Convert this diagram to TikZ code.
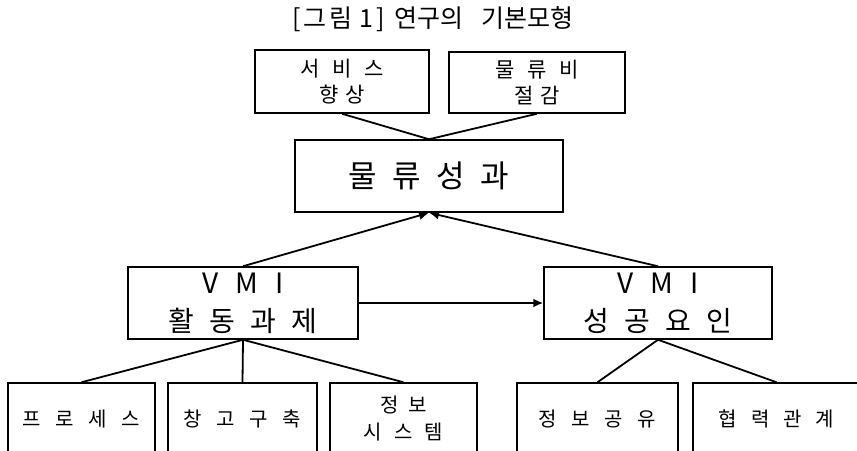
\documentclass[tikz,border=0pt]{standalone}
\usepackage{fontspec}
\setmainfont{Noto Sans CJK KR}
\usetikzlibrary{arrows.meta}
\newcommand\kg[1]{\hspace{#1em}}
\begin{document}
\begin{tikzpicture}[x=1pt,y=-1pt,
  box/.style={draw, line width=1.5pt, inner sep=0pt, align=center},
  small/.style={font={\fontsize{21}{26}\selectfont}},
  big/.style={font={\fontsize{28}{38}\selectfont}},
  bottom/.style={font={\fontsize{20}{27}\selectfont}},
  link/.style={line width=1.8pt},
  arr/.style={line width=1.8pt, -{Latex[length=10pt,width=9pt]}}]
\useasboundingbox (0,0) rectangle (857,450);
\clip (0,0) rectangle (857,450);

\node[font={\fontsize{25}{28}\selectfont}, inner sep=0pt] (title) at (433,19)
  {[\kg{0.1}그\kg{0.1}림\kg{0.3}1\kg{0.1}]\kg{0.4}연구의\kg{0.7}기본모형};

\node[box, small, minimum width=174pt, minimum height=63pt] (svc) at (342,81.5)
  {서\kg{0.6}비\kg{0.6}스\\향\kg{0.3}상};
\node[box, small, minimum width=176pt, minimum height=61pt] (cost) at (537,82.5)
  {물\kg{0.6}류\kg{0.6}비\\절\kg{0.3}감};
\node[box, font={\fontsize{31}{34}\selectfont}, minimum width=268pt, minimum height=72pt] (perf) at (429,176)
  {물\kg{0.5}류\kg{0.5}성\kg{0.5}과};
\node[box, big, minimum width=230pt, minimum height=72pt] (act) at (243,303)
  {V\kg{0.6}M\kg{0.6}I\\활\kg{0.55}동\kg{0.55}과\kg{0.55}제};
\node[box, big, minimum width=228pt, minimum height=72pt] (suc) at (658,303)
  {V\kg{0.6}M\kg{0.6}I\\성\kg{0.55}공\kg{0.55}요\kg{0.55}인};

\node[box, bottom, minimum width=147pt, minimum height=72pt] (proc) at (81.5,419)
  {프\kg{0.73}로\kg{0.73}세\kg{0.73}스};
\node[box, bottom, minimum width=149pt, minimum height=72pt] (ware) at (242.5,419)
  {창\kg{0.73}고\kg{0.73}구\kg{0.73}축};
\node[box, bottom, minimum width=147pt, minimum height=72pt] (info) at (403.5,419)
  {정\kg{0.5}보\\시\kg{0.6}스\kg{0.6}템};
\node[box, bottom, minimum width=161pt, minimum height=72pt] (share) at (597.5,419)
  {정\kg{0.73}보\kg{0.73}공\kg{0.73}유};
\node[box, bottom, minimum width=167pt, minimum height=72pt] (coop) at (776.5,419)
  {협\kg{0.7}력\kg{0.7}관\kg{0.7}계};

\draw[link] (svc.south) -- (perf.north);
\draw[link] (cost.south) -- (perf.north);
\draw[arr] (act.north) -- (perf.south);
\draw[arr] (suc.north) -- (perf.south);
\draw[arr] (act.east) -- (suc.west);
\draw[link] (act.south) -- (proc.north);
\draw[link] (act.south) -- (ware.north);
\draw[link] (act.south) -- (info.north);
\draw[link] (suc.south) -- (share.north);
\draw[link] (suc.south) -- (coop.north);
\end{tikzpicture}
\end{document}
